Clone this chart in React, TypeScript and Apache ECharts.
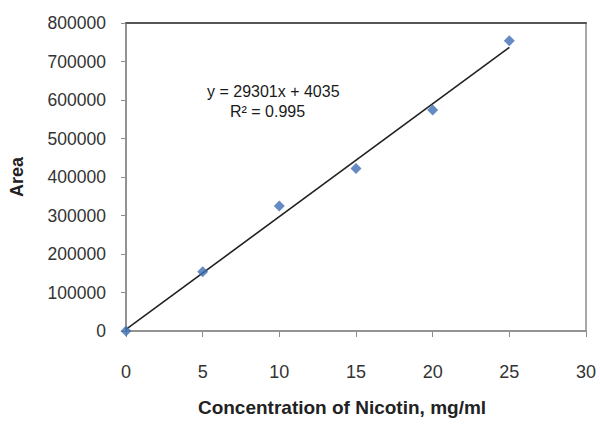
import React, { useEffect, useRef } from "react";
import * as echarts from "echarts";

const concentrations = [0, 5, 10, 15, 20, 25];
const areas = [0, 154000, 325000, 422000, 574000, 754000];
const slope = 29301;
const intercept = 4035;
const trendRange = [0, 25];
const equationText = "y = 29301x + 4035";
const r2Text = "R² = 0.995";
const xTicks = [0, 5, 10, 15, 20, 25, 30];
const yTicks = [0, 100000, 200000, 300000, 400000, 500000, 600000, 700000, 800000];

export default function App() {
  const ref = useRef<HTMLDivElement>(null);
  useEffect(() => {
    if (!ref.current) return;
    const chart = echarts.init(ref.current, undefined, { renderer: "svg" });
    const font = "'Liberation Sans', Arial, sans-serif";
    const trend = trendRange.map((x) => [x, slope * x + intercept]);
    chart.setOption({
      animation: false,
      backgroundColor: "#ffffff",
      textStyle: { fontFamily: font },
      grid: {
        left: 126,
        right: 14,
        top: 23,
        bottom: 95,
        show: true,
        borderColor: "#8c8c8c",
        borderWidth: 1.5,
        backgroundColor: "transparent",
      },
      xAxis: [
        {
          type: "value",
          min: xTicks[0],
          max: xTicks[xTicks.length - 1],
          interval: 5,
          name: "Concentration of Nicotin, mg/ml",
          nameLocation: "middle",
          nameGap: 67,
          nameTextStyle: {
            fontSize: 19,
            fontWeight: "bold",
            color: "#222",
            fontFamily: font,
            padding: [0, 28, 0, 0],
          },
          axisLine: { show: true, lineStyle: { color: "#8c8c8c", width: 1.5 } },
          axisTick: { show: true, inside: false, length: 6, lineStyle: { color: "#8c8c8c" } },
          axisLabel: { fontSize: 18, color: "#333", margin: 32, fontFamily: font },
          splitLine: { show: false },
        },
        {
          type: "value",
          position: "top",
          min: xTicks[0],
          max: xTicks[xTicks.length - 1],
          interval: 5,
          axisLine: { show: true, lineStyle: { color: "#555", width: 2 } },
          axisTick: { show: false },
          axisLabel: { show: false },
          splitLine: { show: false },
        },
      ],
      yAxis: {
        type: "value",
        min: yTicks[0],
        max: yTicks[yTicks.length - 1],
        interval: 100000,
        name: "Area",
        nameLocation: "middle",
        nameGap: 100,
        nameTextStyle: { fontSize: 18, fontWeight: "bold", color: "#222", fontFamily: font },
        axisLine: { show: true, lineStyle: { color: "#8c8c8c", width: 1.5 } },
        axisTick: { show: true, inside: false, length: 5, lineStyle: { color: "#8c8c8c" } },
        axisLabel: {
          fontSize: 17.5,
          color: "#333",
          margin: 20,
          fontFamily: font,
          formatter: (v: number) => String(v),
        },
        splitLine: { show: false },
      },
      series: [
        {
          type: "line",
          data: trend,
          showSymbol: false,
          symbol: "none",
          lineStyle: { color: "#222", width: 1.6 },
          z: 2,
        },
        {
          type: "scatter",
          data: concentrations.map((c, i) => [c, areas[i]]),
          symbol: "diamond",
          symbolSize: 11,
          itemStyle: { color: "#3f6fb3" },
          z: 3,
        },
      ],
      graphic: [
        {
          type: "text",
          left: 207,
          top: 83,
          style: { text: equationText, fontSize: 16, fill: "#1a1a1a", fontFamily: font },
        },
        {
          type: "text",
          left: 230,
          top: 103,
          style: { text: r2Text, fontSize: 16, fill: "#1a1a1a", fontFamily: font },
        },
      ],
    });
    return () => chart.dispose();
  }, []);
  return (
    <div
      ref={ref}
      style={{ position: "fixed", left: 0, top: 0, width: 600, height: 426 }}
    />
  );
}
